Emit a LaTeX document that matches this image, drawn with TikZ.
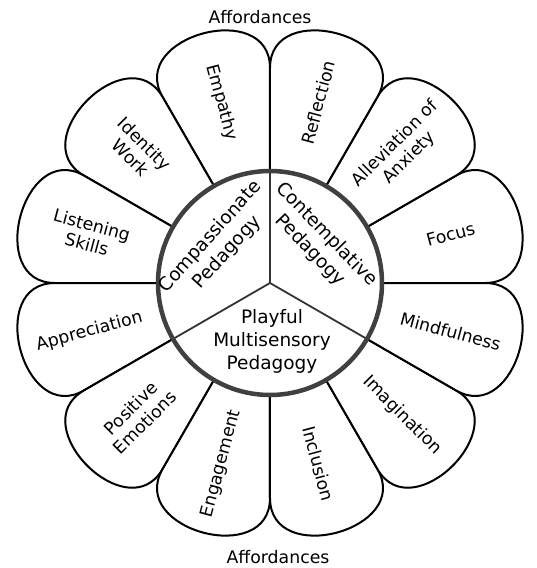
\documentclass[tikz,border=0pt]{standalone}
\usepackage{fontspec}
\setmainfont{DejaVu Sans}
\usetikzlibrary{calc}

\begin{document}
\begin{tikzpicture}[x=1pt,y=1pt,
	petal/.style={fill=white,draw=black,line width=2pt,line join=round},
	petaltext/.style={font=\fontsize{17.3}{20}\selectfont,align=center},
	hubtext/.style={font=\fontsize{18.5}{23}\selectfont,align=center},
	hubline/.style={draw=black!80,line width=1.8pt}]
	
	\useasboundingbox (-270,-285) rectangle (267,283);
	
	% Petals, twelve of them, 30 degrees each
	\foreach \a in {0,30,...,330}{
		\draw[petal] (0,0) -- (\a:215)
		.. controls (\a:285) and (\a+30:285) .. (\a+30:215) -- cycle;
	}
	
	% Petal labels, turned so they read left to right
	\foreach \a/\txt in {15/Focus, 45/{Alleviation of\\Anxiety}, 75/Reflection,
		105/Empathy, 135/{Identity\\Work}, 165/{Listening\\Skills},
		195/Appreciation, 225/{Positive\\Emotions}, 255/Engagement,
		285/Inclusion, 315/Imagination, 345/Mindfulness}{
		\pgfmathsetmacro{\rot}{ifthenelse(and(\a>90,\a<270),\a-180,\a)}
		\node[petaltext,rotate=\rot] (petal-\a) at (\a:187) {\txt};
	}
	
	% Hub with its three pedagogies
	\fill[white] (0,0) circle (112);
	\foreach \a in {90,210,330}
		\draw[hubline] (0,0) -- (\a:112);
	\draw[line width=4.5pt,draw=black!75] (0,0) circle (112);
	
	\node[hubtext,rotate=48] (compassion) at (143:64) {Compassionate\\Pedagogy};
	\node[hubtext,rotate=-46] (contemplation) at (40:63) {Contemplative\\Pedagogy};
	\node[hubtext] (play) at (2,-58) {Playful\\Multisensory\\Pedagogy};
	
	% Affordances, above and below
	\node[petaltext,inner sep=1pt] (aff-top) at (-10,266) {Affordances};
	\node[petaltext,inner sep=1pt] (aff-bot) at (8,-274) {Affordances};
\end{tikzpicture}
\end{document}
